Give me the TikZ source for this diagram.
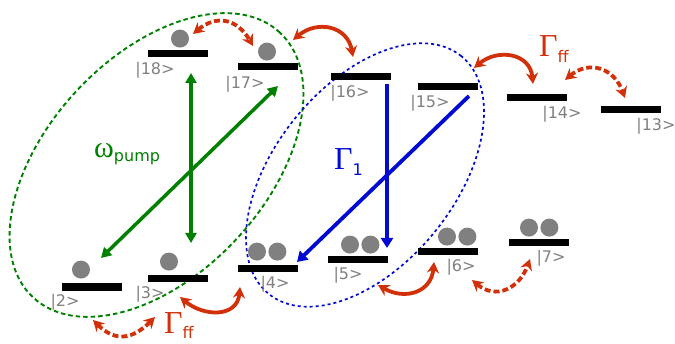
\documentclass[tikz,border=0pt]{standalone}
\usepackage{fontspec}
\setmainfont{DejaVu Sans}
\newfontfamily\greekserif{Liberation Serif}
\usetikzlibrary{arrows.meta, positioning, shapes.geometric, backgrounds}
\definecolor{pumpgreen}{RGB}{0,128,0}
\definecolor{decayblue}{RGB}{0,10,210}
\definecolor{hopred}{RGB}{210,48,8}
\definecolor{ketgray}{RGB}{128,128,128}

\begin{document}
\begin{tikzpicture}[
    x=1pt, y=1pt,
    level/.style={fill=black, minimum width=60pt, minimum height=7pt, inner sep=0pt},
    ket/.style={text=ketgray, inner sep=0pt, font=\fontsize{16}{16}\selectfont},
    ball/.style={circle, fill=ketgray, minimum size=18pt, inner sep=0pt},
    rate/.style={inner sep=0pt, anchor=base west, font=\fontsize{16}{16}\selectfont},
    zone/.style={ellipse, line width=1.9pt, dash pattern=on 4.5pt off 3pt, inner sep=0pt},
    pumparrow/.style={{Triangle[length=10pt, width=11pt]}-{Triangle[length=10pt, width=11pt]}, line width=3.5pt, pumpgreen},
    decayarrow/.style={-{Triangle[length=10pt, width=12pt]}, line width=3.8pt, decayblue},
    hop/.style={{Stealth[length=11pt, width=12pt]}-{Stealth[length=11pt, width=12pt]}, line width=3.8pt, hopred},
    hopdash/.style={hop, dash pattern=on 6pt off 3pt}
]
    \useasboundingbox (0,0) rectangle (675,343);

    % upper levels
    \node[level] (lv18) at (178,289.5) {};
    \node[level] (lv17) at (268,276) {};
    \node[level] (lv16) at (361,266) {};
    \node[level] (lv15) at (448,256) {};
    \node[level] (lv14) at (537,245) {};
    \node[level] (lv13) at (631,233) {};

    % lower levels
    \node[level] (lv2) at (92,56) {};
    \node[level] (lv3) at (178,64) {};
    \node[level] (lv4) at (268,74) {};
    \node[level] (lv5) at (358,83) {};
    \node[level] (lv6) at (448,91) {};
    \node[level] (lv7) at (539,100) {};

    \node[ket, below=5pt of lv18, xshift=-23pt] (k18) {|18>};
    \node[ket, below=5pt of lv17, xshift=-23pt] (k17) {|17>};
    \node[ket, below=4pt of lv16, xshift=-11pt] (k16) {|16>};
    \node[ket, below=4pt of lv15, xshift=-18pt] (k15) {|15>};
    \node[ket, below=4pt of lv14, xshift=25pt] (k14) {|14>};
    \node[ket, below=4pt of lv13, xshift=25pt] (k13) {|13>};
    \node[ket, below=3pt of lv2, xshift=-27pt] (k2) {|2>};
    \node[ket, below=3pt of lv3, xshift=-28pt] (k3) {|3>};
    \node[ket, below=3pt of lv4, xshift=7pt] (k4) {|4>};
    \node[ket, below=3pt of lv5, xshift=-10pt] (k5) {|5>};
    \node[ket, below=3pt of lv6, xshift=13pt] (k6) {|6>};
    \node[ket, below=3pt of lv7, xshift=12pt] (k7) {|7>};

    % excitations
    \node[ball, above=2pt of lv18, xshift=2pt] (d18) {};
    \node[ball, above=2.5pt of lv17, xshift=-1pt] (d17) {};
    \node[ball, above=4.5pt of lv2, xshift=-11pt] (d2) {};
    \node[ball, above=4.5pt of lv3, xshift=-9pt] (d3) {};
    \node[ball, above=4.5pt of lv4, xshift=-11pt] (d4a) {};
    \node[ball, right=2pt of d4a] (d4b) {};
    \node[ball, above=2.5pt of lv5, xshift=-8pt] (d5a) {};
    \node[ball, right=2pt of d5a] (d5b) {};
    \node[ball, above=2.5pt of lv6, xshift=-1pt] (d6a) {};
    \node[ball, right=2pt of d6a] (d6b) {};
    \node[ball, above=2.5pt of lv7, xshift=-10pt] (d7a) {};
    \node[ball, right=2pt of d7a] (d7b) {};

    % arrow ends
    \coordinate (p18) at (191,270);
    \coordinate (p3) at (191,100);
    \coordinate (p17) at (278,257);
    \coordinate (p2) at (101,85);
    \coordinate (r16) at (387,259);
    \coordinate (r5) at (387,95);
    \coordinate (r15) at (469,247);
    \coordinate (r4) at (297,81);

    \coordinate (h18) at (193,309);
    \coordinate (h17) at (253,297);
    \coordinate (s17) at (293,303);
    \coordinate (s16) at (353,286);
    \coordinate (s15) at (474,275);
    \coordinate (s14) at (533,259);
    \coordinate (h14) at (565,263);
    \coordinate (h13) at (625,245);
    \coordinate (h2) at (93,23);
    \coordinate (h3) at (155,26);
    \coordinate (s3) at (180,46);
    \coordinate (s4) at (240,56);
    \coordinate (s5) at (378,58);
    \coordinate (s6) at (434,81);
    \coordinate (h6) at (472,63);
    \coordinate (h7) at (530,84);

    \draw[pumparrow] (p18) -- (p3);
    \draw[pumparrow] (p17) -- (p2);
    \draw[decayarrow] (r16) -- (r5);
    \draw[decayarrow] (r15) -- (r4);

    \draw[hopdash] (h18) to[out=40, in=120, looseness=1.3] (h17);
    \draw[hop] (s17) to[out=40, in=100, looseness=1.3] (s16);
    \draw[hop] (s15) to[out=40, in=95, looseness=1.3] (s14);
    \draw[hopdash] (h14) to[out=40, in=110, looseness=1.3] (h13);
    \draw[hopdash] (h2) to[out=-45, in=-135, looseness=1.3] (h3);
    \draw[hop] (s3) to[out=-40, in=-95, looseness=1.3] (s4);
    \draw[hop] (s5) to[out=-30, in=-95, looseness=1.3] (s6);
    \draw[hopdash] (h6) to[out=-40, in=-110, looseness=1.3] (h7);

    \node[rate, text=pumpgreen] (wpump) at (94,185) {{\greekserif\fontsize{30}{30}\selectfont ω}\raisebox{-4pt}{pump}};
    \node[rate, text=decayblue] (gone) at (334,173) {{\greekserif\fontsize{32}{32}\selectfont Γ}\raisebox{-6pt}{1}};
    \node[rate, text=hopred] (gfftop) at (539,286) {{\greekserif\fontsize{32}{32}\selectfont Γ}\raisebox{-6pt}{ff}};
    \node[rate, text=hopred] (gffbot) at (164,10) {{\greekserif\fontsize{32}{32}\selectfont Γ}\raisebox{-6pt}{ff}};

    \begin{scope}[on background layer]
        \node[zone, draw=pumpgreen, rotate=47, minimum width=362pt, minimum height=218pt] (pumpzone) at (156.5,178) {};
        \node[zone, draw=decayblue, line width=1.7pt, dash pattern=on 3pt off 3pt, rotate=51, minimum width=306pt, minimum height=180pt] (decayzone) at (365,168) {};
    \end{scope}
\end{tikzpicture}
\end{document}
